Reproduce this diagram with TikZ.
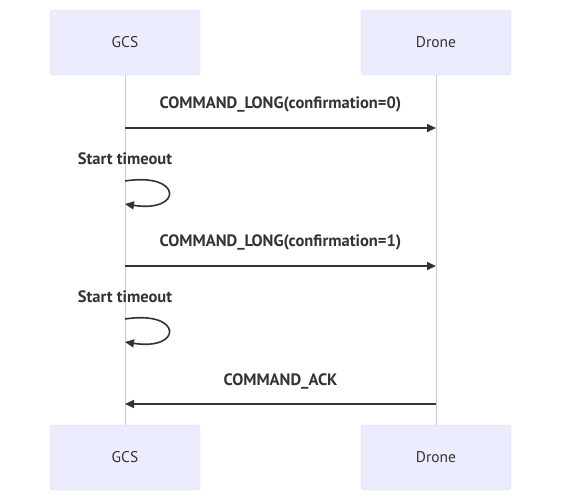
\documentclass[tikz,border=0pt]{standalone}
\usepackage{fontspec}
\setmainfont{PT Sans}
\usetikzlibrary{arrows.meta,positioning,calc}
\usepackage{xcolor}
\definecolor{actorfill}{HTML}{ECECFF}
\definecolor{actorline}{HTML}{D6D6EE}
\definecolor{lifeline}{HTML}{CACADA}
\definecolor{msgline}{HTML}{333333}

\begin{document}
\begin{tikzpicture}[ x=1pt, y=-1pt
                   , actor/.style={draw=actorline, fill=actorfill, rounded corners=3pt,
                                   minimum width=150pt, minimum height=65pt,
                                   font=\fontsize{15.5}{18}\selectfont, text=msgline}
                   , msg/.style={draw=msgline, line width=1.6pt, -{Triangle[length=9pt,width=8pt]}}
                   , lbl/.style={font=\fontsize{16.5}{19}\selectfont\bfseries, text=msgline}
                   ]
      \useasboundingbox (0,0) rectangle (561,501);

      % actors
      \node (gcsTop)   [actor] at (125,42.5)  {GCS};
      \node (droneTop) [actor] at (436,42.5)  {Drone};
      \node (gcsBot)   [actor] at (125,457.5) {GCS};
      \node (droneBot) [actor] at (436,457.5) {Drone};

      % lifelines
      \draw [draw=lifeline, line width=1pt] (gcsTop) -- (gcsBot);
      \draw [draw=lifeline, line width=1pt] (droneTop) -- (droneBot);

      % messages
      \coordinate (g1) at (125,128);
      \coordinate (d1) at (436,128);
      \draw [msg] (g1) -- (d1);
      \node (l1) [lbl] at (280.5,104) {COMMAND\_LONG(confirmation=0)};

      \node (t1) [lbl] at (125,159) {Start timeout};
      \coordinate (s1a) at (125,181);
      \coordinate (s1b) at (125,204);
      \draw [msg] (s1a) .. controls (183,172) and (183,213) .. (s1b);

      \coordinate (g2) at (125,266);
      \coordinate (d2) at (436,266);
      \draw [msg] (g2) -- (d2);
      \node (l2) [lbl] at (280.5,242) {COMMAND\_LONG(confirmation=1)};

      \node (t2) [lbl] at (125,297) {Start timeout};
      \coordinate (s2a) at (125,319);
      \coordinate (s2b) at (125,342);
      \draw [msg] (s2a) .. controls (183,310) and (183,351) .. (s2b);

      \coordinate (d3) at (436,404);
      \coordinate (g3) at (125,404);
      \draw [msg] (d3) -- (g3);
      \node (l3) [lbl] at (280.5,381) {COMMAND\_ACK};

\end{tikzpicture}
\end{document}
